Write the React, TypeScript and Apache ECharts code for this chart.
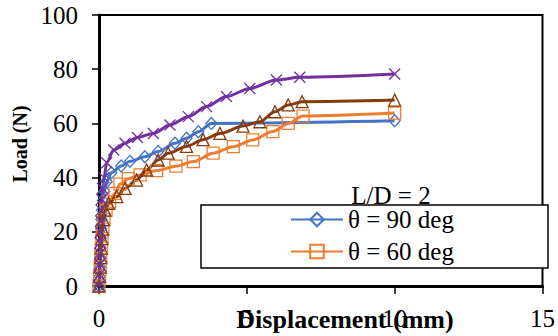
import React, { useEffect, useRef } from "react";
import * as echarts from "echarts";

const xTicks = [0, 5, 10, 15];
const yTicks = [0, 20, 40, 60, 80, 100];

const legendTitle = "L/D = 2";
const seriesNames = ["θ = 90 deg", "θ = 60 deg", "θ = 45 deg", "θ = 30 deg"];

const blue90: [number, number][] = [
  [0, 0], [0.02, 3.5], [0.03, 7], [0.04, 10.5], [0.05, 14], [0.06, 17.5], [0.07, 21],
  [0.08, 24.5], [0.1, 28], [0.13, 31.5], [0.18, 35], [0.26, 38.5], [0.42, 41.8],
  [0.75, 44.3], [1.05, 46], [1.55, 47.7], [2.0, 49.6], [2.57, 52.7], [2.96, 54.5],
  [3.36, 56.9], [3.8, 60], [10, 61],
];

const orange60: [number, number][] = [
  [0, 0], [0.02, 3.5], [0.04, 7], [0.06, 10.5], [0.08, 14], [0.1, 17.5], [0.13, 21],
  [0.17, 24.5], [0.24, 28], [0.36, 31], [0.54, 34.2], [0.71, 37.6], [0.99, 39.6],
  [1.39, 41], [1.95, 42.6], [2.6, 44.2], [3.19, 45.9], [3.86, 49], [4.54, 51.4],
  [5.2, 53.9], [5.88, 57], [6.4, 60], [6.9, 62.7], [10, 63.8],
];

const brown45: [number, number][] = [
  [0, 0], [0.02, 3.5], [0.04, 7], [0.06, 10.5], [0.08, 14], [0.1, 17.5], [0.12, 21],
  [0.15, 24.5], [0.2, 28], [0.32, 30.5], [0.6, 33], [0.88, 36], [1.27, 39.1],
  [1.61, 42.8], [2.0, 46.5], [2.34, 49], [2.96, 51.5], [3.52, 54], [4.09, 56.3],
  [4.87, 59], [5.44, 60.6], [5.95, 64.3], [6.4, 66.8], [6.87, 68], [10, 68.6],
];

const purple30: [number, number][] = [
  [0, 0], [0.01, 4], [0.02, 8], [0.03, 12], [0.04, 16], [0.05, 20], [0.06, 24],
  [0.07, 28], [0.09, 32], [0.12, 36], [0.17, 40], [0.26, 45.5], [0.5, 50.2],
  [0.88, 52.7], [1.3, 54.8], [1.84, 56.3], [2.4, 59.4], [3.02, 62.5], [3.64, 66.2],
  [4.31, 69.9], [5.1, 72.9], [6.0, 76], [6.79, 77], [10, 78.2],
];

const FONT = "'Liberation Serif', 'Times New Roman', serif";

export default function App() {
  const ref = useRef<HTMLDivElement>(null);
  useEffect(() => {
    if (!ref.current) return;
    document.body.style.margin = "0";
    const chart = echarts.init(ref.current, null, { renderer: "svg" });
    const mk = (
      name: string,
      data: [number, number][],
      color: string,
      symbol: string,
      symbolSize: number | number[]
    ) => ({
      name,
      type: "line",
      data,
      smooth: 0.3,
      smoothMonotone: "x",
      symbol,
      symbolSize,
      color,
      lineStyle: { color, width: 3 },
      itemStyle: { color: "transparent", borderColor: color, borderWidth: 1.3 },
      emphasis: { disabled: true },
    });
    chart.setOption({
      animation: false,
      backgroundColor: "#fff",
      grid: {
        left: 99,
        right: 15,
        top: 15,
        bottom: 50,
        show: true,
        borderColor: "#000",
        borderWidth: 2,
      },
      xAxis: {
        type: "value",
        min: xTicks[0],
        max: xTicks[xTicks.length - 1],
        interval: 5,
        axisLine: { show: true, onZero: false, lineStyle: { color: "#000", width: 3 } },
        axisTick: { show: true, length: 8, lineStyle: { color: "#000", width: 1.5 } },
        axisLabel: { margin: 20, fontSize: 25, fontFamily: FONT, color: "#000" },
        splitLine: { show: false },
      },
      yAxis: {
        type: "value",
        min: yTicks[0],
        max: yTicks[yTicks.length - 1],
        interval: 20,
        axisLine: { show: true, onZero: false, lineStyle: { color: "#000", width: 3 } },
        axisTick: { show: true, length: 7, lineStyle: { color: "#000", width: 1.5 } },
        axisLabel: { margin: 21, fontSize: 25, fontFamily: FONT, color: "#000" },
        splitLine: { show: false },
      },
      legend: {
        data: [seriesNames[0], seriesNames[1]],
        orient: "vertical",
        left: 290,
        top: 207,
        itemWidth: 52,
        itemHeight: 17,
        itemGap: 7,
        padding: 0,
        z: 5,
        textStyle: { fontSize: 25, fontFamily: FONT, color: "#000", lineHeight: 24 },
      },
      graphic: [
        {
          type: "rect",
          z: 4,
          shape: { x: 201, y: 205, width: 347, height: 63 },
          style: { fill: "#fff", stroke: "#000", lineWidth: 1.5 },
        },
        {
          type: "text",
          z: 4,
          x: 391,
          y: 195,
          style: {
            text: legendTitle,
            fontSize: 25,
            fontFamily: FONT,
            fill: "#000",
            align: "center",
            verticalAlign: "middle",
          },
        },
        {
          type: "text",
          z: 4,
          x: 345,
          y: 319,
          style: {
            text: "Displacement (mm)",
            fontSize: 26,
            fontWeight: "bold",
            fontFamily: FONT,
            fill: "#000",
            align: "center",
            verticalAlign: "middle",
          },
        },
        {
          type: "text",
          z: 4,
          x: 20,
          y: 144,
          rotation: Math.PI / 2,
          style: {
            text: "Load (N)",
            fontSize: 20,
            fontWeight: "bold",
            fontFamily: FONT,
            fill: "#000",
            align: "center",
            verticalAlign: "middle",
          },
        },
      ],
      series: [
        mk(seriesNames[0], blue90, "#4472C4", "diamond", [11, 12]),
        mk(seriesNames[1], orange60, "#ED7D31", "rect", 12),
        mk(seriesNames[2], brown45, "#843C0C", "triangle", 12),
        mk(seriesNames[3], purple30, "#7030A0", "path://M0,0L10,10M10,0L0,10", 11),
      ],
    });
    return () => chart.dispose();
  }, []);
  return (
    <div
      ref={ref}
      style={{ position: "fixed", left: 0, top: 0, width: 558, height: 336 }}
    />
  );
}
